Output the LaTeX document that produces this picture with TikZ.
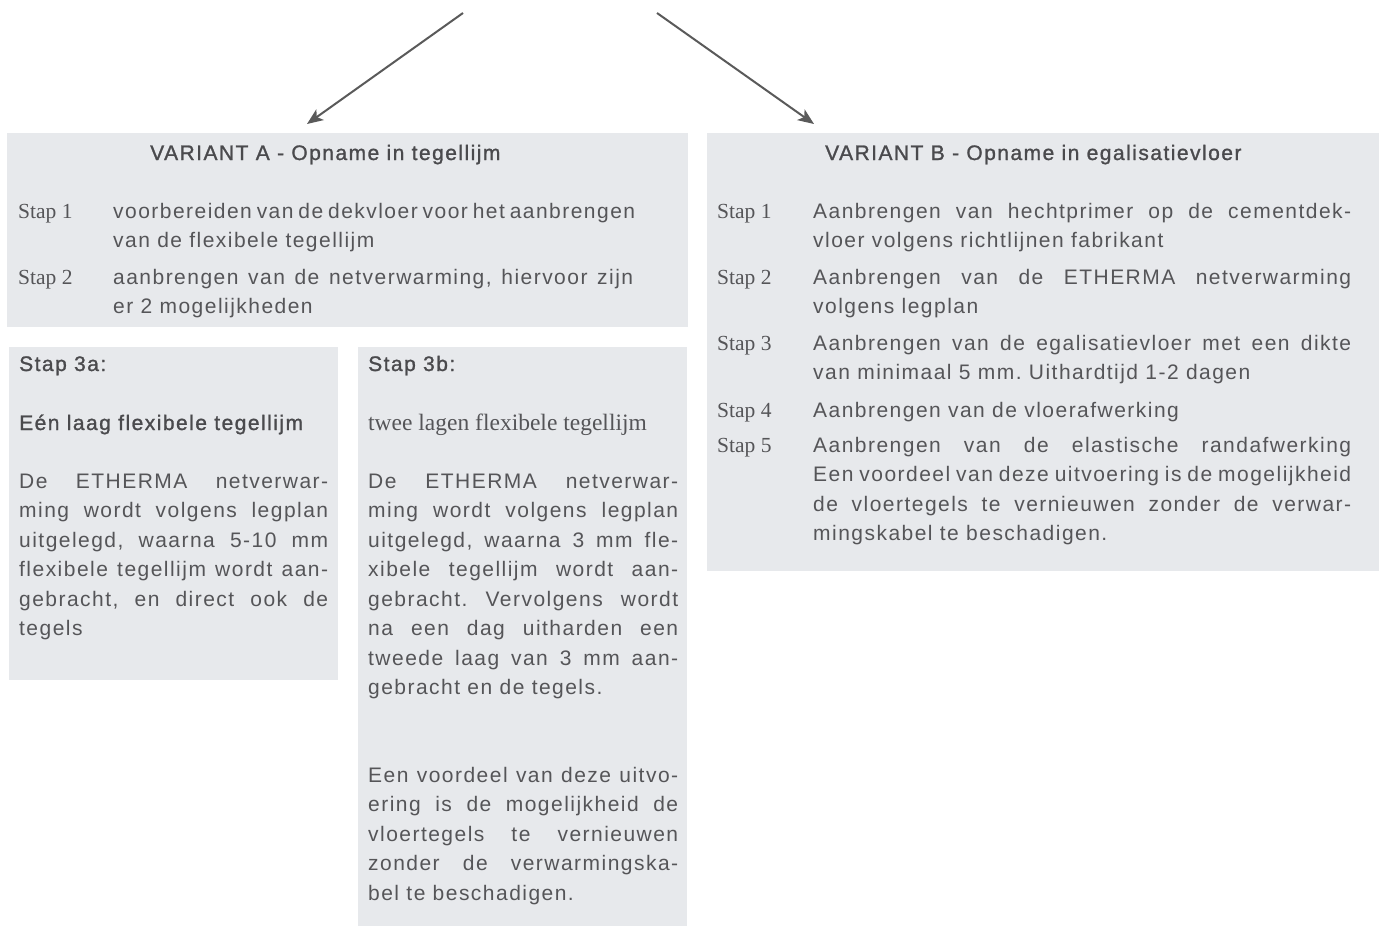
\documentclass[tikz,border=0pt]{standalone}
\usepackage{fontspec}
\setmainfont{Liberation Sans}
\newfontfamily\din{Liberation Sans}[LetterSpace=7]
\newfontfamily\dinm{Liberation Sans}[LetterSpace=7,FakeBold=1.2]
\newfontfamily\stapfont{Liberation Serif}
\usetikzlibrary{arrows.meta,calc}
\definecolor{boxfill}{HTML}{E7E9EC}
\definecolor{ink}{HTML}{555558}
\definecolor{inkdark}{HTML}{4A4A4D}
\definecolor{arrowgray}{HTML}{5A5A5A}
\newcommand\jl[1]{\makebox[\linewidth][s]{#1}\\}
\frenchspacing
\begin{document}
\begin{tikzpicture}[x=1pt,y=-1pt,
  panel/.style={fill=boxfill, draw=none, inner sep=0pt, anchor=north west},
  body/.style={anchor=base west, inner sep=0pt, text=ink, font=\din\fontsize{21}{29.5}\selectfont\frenchspacing},
  head/.style={anchor=base west, inner sep=0pt, text=inkdark, font=\dinm\fontsize{21}{29.5}\selectfont},
  staplabel/.style={anchor=base west, inner sep=0pt, text=ink, font=\stapfont\fontsize{21.5}{25}\selectfont},
  serifhead/.style={anchor=base west, inner sep=0pt, text=ink, font=\stapfont\fontsize{23.5}{25}\selectfont},
  flow/.style={draw=arrowgray, line width=2pt, -{Stealth[length=16pt,width=13pt,inset=4pt]}}]
\useasboundingbox (0,0) rectangle (1379,926);

% panels
\node[panel, minimum width=681pt, minimum height=193.5pt] (boxA) at (7,133) {};
\node[panel, minimum width=672pt, minimum height=437.5pt] (boxB) at (707,133) {};
\node[panel, minimum width=329pt, minimum height=333pt] (boxC) at (9,347) {};
\node[panel, minimum width=329pt, minimum height=579pt] (boxD) at (358,347) {};

% arrows
\coordinate (srcA) at (463,13);
\coordinate (tipA) at (307,124);
\coordinate (srcB) at (657,13);
\coordinate (tipB) at (814,124);
\draw[flow] (srcA) -- (tipA);
\draw[flow] (srcB) -- (tipB);

% Variant A
\node[head] (titleA) at (150,160) {VARIANT A - Opname in tegellijm};
\node[staplabel] (a1l) at (18,218) {Stap 1};
\node[body] (a1t) at (113,218) {\parbox[t]{520pt}{\jl{voorbereiden van de dekvloer voor het aanbrengen}van de flexibele tegellijm}};
\node[staplabel] (a2l) at (18,284) {Stap 2};
\node[body] (a2t) at (113,284) {\parbox[t]{520pt}{\jl{aanbrengen van de netverwarming, hiervoor zijn}er 2 mogelijkheden}};

% Variant B
\node[head] (titleB) at (825,160) {VARIANT B - Opname in egalisatievloer};
\node[staplabel] (b1l) at (717,218) {Stap 1};
\node[body] (b1t) at (813,218) {\parbox[t]{538pt}{\jl{Aanbrengen van hechtprimer op de cementdek-}vloer volgens richtlijnen fabrikant}};
\node[staplabel] (b2l) at (717,284) {Stap 2};
\node[body] (b2t) at (813,284) {\parbox[t]{538pt}{\jl{Aanbrengen van de ETHERMA netverwarming}volgens legplan}};
\node[staplabel] (b3l) at (717,350) {Stap 3};
\node[body] (b3t) at (813,350) {\parbox[t]{538pt}{\jl{Aanbrengen van de egalisatievloer met een dikte}van minimaal 5 mm. Uithardtijd 1-2 dagen}};
\node[staplabel] (b4l) at (717,417) {Stap 4};
\node[body] (b4t) at (813,417) {Aanbrengen van de vloerafwerking};
\node[staplabel] (b5l) at (717,452) {Stap 5};
\node[body] (b5t) at (813,452) {\parbox[t]{538pt}{\jl{Aanbrengen van de elastische randafwerking}\jl{Een voordeel van deze uitvoering is de mogelijkheid}\jl{de vloertegels te vernieuwen zonder de verwar-}mingskabel te beschadigen.}};

% Stap 3a
\node[head] (c1) at (19,371) {Stap 3a:};
\node[head] (c2) at (19,430) {Eén laag flexibele tegellijm};
\node[body] (c3) at (19,488) {\parbox[t]{309pt}{\jl{De ETHERMA netverwar-}\jl{ming wordt volgens legplan}\jl{uitgelegd, waarna 5-10 mm}\jl{flexibele tegellijm wordt aan-}\jl{gebracht, en direct ook de}tegels}};

% Stap 3b
\node[head] (d1) at (368,371) {Stap 3b:};
\node[serifhead] (d2) at (368,430) {twee lagen flexibele tegellijm};
\node[body] (d3) at (368,488) {\parbox[t]{310pt}{\jl{De ETHERMA netverwar-}\jl{ming wordt volgens legplan}\jl{uitgelegd, waarna 3 mm fle-}\jl{xibele tegellijm wordt aan-}\jl{gebracht. Vervolgens wordt}\jl{na een dag uitharden een}\jl{tweede laag van 3 mm aan-}gebracht en de tegels.}};
\node[body] (d4) at (368,782) {\parbox[t]{310pt}{\jl{Een voordeel van deze uitvo-}\jl{ering is de mogelijkheid de}\jl{vloertegels te vernieuwen}\jl{zonder de verwarmingska-}bel te beschadigen.}};
\end{tikzpicture}
\end{document}
